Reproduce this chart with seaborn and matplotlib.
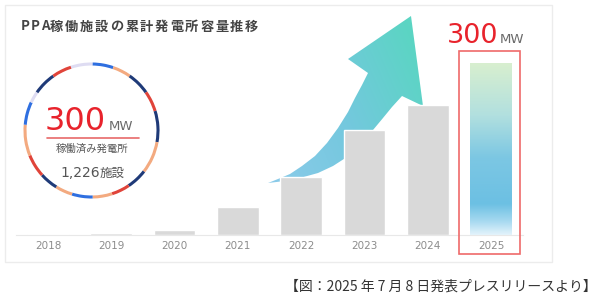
import numpy as np
import matplotlib
matplotlib.use("Agg")
import matplotlib.pyplot as plt
import seaborn as sns
from matplotlib.patches import Rectangle, Polygon, Arc
from matplotlib.colors import LinearSegmentedColormap

# ---------------- data ----------------
years = ["2018", "2019", "2020", "2021", "2022", "2023", "2024", "2025"]
capacity_mw = [2, 4, 9, 49, 102, 183, 226, 300]
bar_colors = ["#d9d9d9"] * 7 + ["#74c3e3"]
title_text = "PPA稼働施設の累計発電所容量推移"
total_value = "300"
total_unit = "MW"
facility_label = "稼働済み発電所"
facility_count = "1,226"
facility_unit = "施設"
caption = "【図：2025 年 7 月 8 日発表プレスリリースより】"

sns.set_theme(style="white")
plt.rcParams["font.family"] = ["Noto Sans CJK JP", "DejaVu Sans"]

W, H = 600, 299
fig = plt.figure(figsize=(6, 2.99), dpi=100)
fig.patch.set_facecolor("white")


def fx(x):
    return x / W


def fy(y):
    return 1 - y / H


# background / decoration axes in pixel coordinates
bg = fig.add_axes([0, 0, 1, 1], zorder=0)
bg.set_xlim(0, W)
bg.set_ylim(H, 0)
bg.axis("off")

bg.add_patch(Rectangle((5, 5), 547, 257, facecolor="white", edgecolor="#ececec", lw=1.0))

# curved arrow (decoration) with gradient
arrow_pts = [(268, 183), (285, 181), (300, 178), (318, 173), (333, 166), (347, 157),
             (360, 145), (373, 130), (383, 118), (392, 107), (402, 96), (423, 106),
             (411, 16), (348, 59), (368, 73), (362, 85), (355, 98), (348, 112),
             (338, 128), (327, 143), (315, 156), (302, 166), (290, 174), (278, 179)]
arrow = Polygon(arrow_pts, closed=True, facecolor="none", edgecolor="none",
                transform=bg.transData)
bg.add_patch(arrow)
gx, gy = np.meshgrid(np.linspace(0, 1, 200), np.linspace(0, 1, 200))
grad = np.clip(0.75 * gx + 0.35 * (1 - gy), 0, 1)
acmap = LinearSegmentedColormap.from_list("arr", ["#8ccbea", "#74c8de", "#5bd5c3"])
im = bg.imshow(grad, extent=(268, 425, 185, 14), origin="upper", cmap=acmap,
               aspect="auto", interpolation="bilinear", zorder=1)
im.set_clip_path(arrow)
bg.set_xlim(0, W)
bg.set_ylim(H, 0)

# dashed colourful ring
cx, cy, rr = 91.5, 130.5, 66.5
blue, navy, red, peach, lav = "#2f6fe0", "#1f3a78", "#e0443a", "#f3aa80", "#dedcf2"
segments = [(108, 89, lav), (89, 71, blue), (71, 55, peach), (55, 35, navy),
            (35, 17, red), (17, -10, navy), (-10, -38, peach), (-38, -56, navy),
            (-56, -72, red), (-72, -89, peach), (-89, -107, blue), (-107, -122, peach),
            (-122, -138, navy), (-138, -158, red), (-158, -185, peach),
            (-185, -205, blue), (-205, -215, lav), (-215, -235, navy), (-235, -252, red)]
for a1, a2, col in segments:
    bg.add_patch(Arc((cx, cy), 2 * rr, 2 * rr, theta1=-a1, theta2=-a2,
                     color=col, lw=2.2, capstyle="butt"))

# circle texts
fig.text(fx(45), fy(130), total_value, color="#e8232c", fontsize=23,
         family="DejaVu Sans", ha="left", va="baseline")
fig.text(fx(109), fy(130), total_unit, color="#6a6a6a", fontsize=9.5,
         family="DejaVu Sans", ha="left", va="baseline")
bg.plot([47, 139], [138, 138], color="#e86a6a", lw=1.2)
fig.text(fx(91.5), fy(149), facility_label, color="#555555", fontsize=7.5,
         ha="center", va="center")
fig.text(fx(60), fy(177), facility_count, color="#555555", fontsize=10,
         family="DejaVu Sans", ha="left", va="baseline")
fig.text(fx(100), fy(177), facility_unit, color="#555555", fontsize=9,
         ha="left", va="baseline")

# title with letter spacing
for i, ch in enumerate("PPA"):
    fig.text(fx(20.5 + 10.5 * i), fy(26.5), ch, color="#444444", fontsize=9.5,
             fontweight="bold", ha="left", va="center")
for i, ch in enumerate(title_text[3:]):
    fig.text(fx(50 + 15 * i), fy(26.5), ch, color="#444444", fontsize=9.5,
             fontweight="bold", ha="left", va="center")

# ---------------- bar chart ----------------
left_px, right_px = 16.35, 522.75
base_px, top_px = 235, 5
ax = fig.add_axes([fx(left_px), fy(base_px), (right_px - left_px) / W,
                   (base_px - top_px) / H], zorder=1)
ax.set_facecolor("none")
sns.barplot(x=years, y=capacity_mw, hue=years, palette=bar_colors, legend=False,
            width=0.66, saturation=1, ax=ax, zorder=2)
ax.set_xlim(-0.5, 7.5)
ymax = 300 / (172 / (base_px - top_px))
ax.set_ylim(0, ymax)

# gradient for the last (forecast) bar
last = min(ax.patches, key=lambda p: abs(p.get_x() + p.get_width() / 2 - (len(years) - 1)))
x0, w, h = last.get_x(), last.get_width(), last.get_height()
bcmap = LinearSegmentedColormap.from_list(
    "bar", [(0.0, "#d8efcf"), (0.3, "#b2e0df"), (0.55, "#7cc7e3"),
            (0.82, "#6cc0e3"), (0.92, "#a6d9f0"), (1.0, "#e3f3fb")])
bim = ax.imshow(np.linspace(0, 1, 256).reshape(-1, 1), extent=(x0, x0 + w, 0, h),
                origin="upper", cmap=bcmap, aspect="auto", zorder=3)
bim.set_clip_path(last)
ax.set_xlim(-0.5, 7.5)
ax.set_ylim(0, ymax)

# red highlight box around last bar
px_per_unit_x = (right_px - left_px) / 8
px_per_unit_y = (base_px - top_px) / ymax
bx0 = (len(years) - 1) - 32 / px_per_unit_x
ax.add_patch(Rectangle((bx0, -19 / px_per_unit_y), 61 / px_per_unit_x,
                       (19 + 184) / px_per_unit_y, fill=False, edgecolor="#ef6a6a",
                       lw=1.2, clip_on=False, zorder=4))

ax.set_yticks([])
ax.set_ylabel("")
ax.set_xlabel("")
ax.tick_params(axis="x", length=0, pad=4, labelsize=7.5, labelcolor="#8c8c8c")
for lbl in ax.get_xticklabels():
    lbl.set_family("DejaVu Sans")
for s in ["top", "left", "right"]:
    ax.spines[s].set_visible(False)
ax.spines["bottom"].set_color("#e8e8e8")
ax.spines["bottom"].set_linewidth(0.8)

# headline above last bar
fig.text(fx(447), fy(43), total_value, color="#e8232c", fontsize=19.5,
         family="DejaVu Sans", ha="left", va="baseline")
fig.text(fx(500), fy(43), total_unit, color="#6a6a6a", fontsize=9.5,
         family="DejaVu Sans", ha="left", va="baseline")

# caption
fig.text(fx(597), fy(287), caption, color="#333333", fontsize=10,
         ha="right", va="center")

fig.savefig("out.png", dpi=100)
